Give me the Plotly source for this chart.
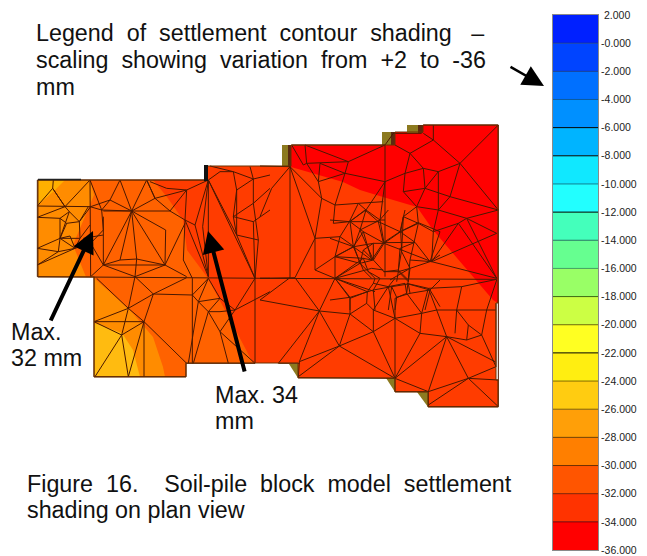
import plotly.graph_objects as go

# ---- legend scale data
BAND_TOPS = [2, 0, -2, -4, -6, -8, -10, -12, -14, -16, -18, -20, -22, -24, -26, -28, -30, -32, -34]
BAND_COLORS = ["#0020FF", "#0044FF", "#0070FF", "#0090FF", "#00B4FF", "#10E8FF", "#22FFFF", "#44FFBB",
               "#66FF90", "#99FF66", "#CCFF44", "#FFFF22", "#FFEE11", "#FFCC11", "#FF9F08", "#FF7F00",
               "#FF5500", "#FF3300", "#FF0000"]
TICK_VALUES = [2, 0, -2, -4, -6, -8, -10, -12, -14, -16, -18, -20, -22, -24, -26, -28, -30, -32, -34, -36]
TICK_LABELS = ["\u00a02.000", "-0.000", "-2.000", "-4.000", "-6.000", "-8.000", "-10.000", "-12.000", "-14.000",
               "-16.000", "-18.000", "-20.000", "-22.000", "-24.000", "-26.000", "-28.000", "-30.000",
               "-32.000", "-34.000", "-36.000"]
SEPARATOR_COLORS = ["#123a90", "#123a90", "#0a5aa0", "#000000", "#000000", "#108090", "#000000", "#207a60",
                    "#40a060", "#3a6a10", "#6a6a00", "#000000", "#806a00", "#806000", "#704000", "#703000",
                    "#802000", "#700000"]

# ---- plan view data (picture-scale plan coordinates)
OUTLINE = [(38, 180), (205, 180), (205, 166), (291, 166), (291, 145), (395, 145), (395, 132), (423, 132), (423, 125),
           (498, 125), (498, 303), (496, 303), (496, 380), (498, 380), (498, 407), (428, 407), (428, 392), (395, 392),
           (395, 378), (298, 378), (298, 363), (192, 363), (186, 363), (186, 377), (94, 377), (94, 277), (38, 277)]
ZONE_RED = [(291, 146), (395, 145), (395, 132), (423, 132), (423, 125), (498, 125), (498, 303), (493, 300),
            (433, 230), (417, 207), (383, 197), (360, 190), (343, 182), (291, 167)]
ZONE_30 = [(153, 180), (167, 197), (183, 220), (187, 250), (207, 277), (225, 310), (253, 363), (186, 363),
           (186, 377), (94, 377), (94, 277), (38, 277), (38, 180)]
ZONE_28 = [(38, 180), (90, 180), (94, 195), (79, 230), (73, 245), (86, 277), (38, 277)]
ZONE_28B = [(94, 278), (130, 310), (153, 337), (163, 367), (165, 377), (94, 377)]
ZONE_26 = [(38, 180), (65, 180), (55, 190), (38, 205)]
ZONE_26B = [(94, 323), (122, 333), (133, 350), (140, 377), (94, 377)]
PILES_OLIVE = [[(282, 145), (288, 145), (288, 167), (282, 166)], [(382, 132), (391, 132), (391, 145), (382, 145)],
               [(407, 125), (418, 125), (418, 133), (407, 133)], [(289, 364), (298, 364), (298, 378)],
               [(386, 378), (395, 378), (395, 392)], [(417, 392), (428, 392), (428, 407)]]
PILES_BROWN = [[(288, 145), (291, 145), (291, 167), (288, 167)], [(391, 132), (395, 132), (395, 145), (391, 145)],
               [(418, 125), (423, 125), (423, 133), (418, 133)]]

# west half of the mesh, in thirds of a unit, origin (20, 110)
MESH_WEST = [
    [(52, 210), (210, 210), (560, 210)], [(52, 288), (210, 290)], [(210, 210), (212, 500)], [(52, 210), (52, 500)],
    [(52, 500), (750, 505)], [(222, 500), (222, 800), (498, 800), (498, 760), (705, 760)], [(565, 210), (565, 500)],
    [(517, 505), (517, 760)], [(100, 210), (98, 235), (135, 290), (210, 210)], [(98, 235), (52, 288)],
    [(98, 235), (120, 270), (135, 290)], [(135, 290), (148, 305), (120, 385)], [(52, 322), (135, 290)],
    [(52, 322), (120, 325), (120, 385)], [(120, 325), (148, 305), (178, 335), (205, 290)],
    [(140, 340), (178, 335), (180, 385), (120, 385), (140, 340), (120, 325)], [(52, 415), (120, 385), (115, 425), (52, 415)],
    [(52, 465), (115, 425), (165, 415), (120, 385)], [(52, 465), (165, 415), (212, 400)], [(180, 385), (210, 345)],
    [(120, 385), (150, 378), (165, 415), (180, 385)], [(178, 335), (212, 290)],
    [(210, 210), (245, 300), (270, 270), (300, 210), (335, 303), (380, 210), (405, 265), (335, 303), (270, 270)],
    [(245, 300), (335, 303)], [(250, 303), (450, 303), (495, 330)], [(250, 320), (250, 465), (435, 465)],
    [(250, 465), (300, 450), (350, 447), (435, 465)], [(335, 303), (250, 465)], [(335, 303), (300, 450)],
    [(335, 303), (350, 447)], [(335, 303), (435, 465)], [(335, 303), (437, 360), (435, 465), (495, 340)],
    [(405, 265), (450, 303)], [(405, 265), (380, 210)], [(405, 265), (500, 240), (440, 235), (390, 215)], [(450, 303), (500, 240)],
    [(500, 240), (495, 330), (525, 345), (565, 210), (500, 240)], [(495, 330), (490, 450), (517, 505)], [(525, 345), (565, 500)],
    [(495, 330), (565, 500)], [(565, 210), (548, 350), (565, 500)], [(210, 290), (245, 300), (250, 360), (212, 400), (250, 465)],
    [(212, 290), (270, 270)], [(250, 375), (190, 385)], [(212, 500), (250, 465), (345, 500), (350, 447)],
    [(345, 500), (435, 465), (500, 500)], [(345, 500), (325, 595), (222, 635), (372, 635), (325, 595)],
    [(325, 595), (400, 552), (500, 503)], [(400, 552), (345, 500)], [(400, 552), (372, 635), (500, 760)],
    [(400, 552), (517, 555)], [(222, 635), (305, 675), (225, 800)], [(305, 675), (325, 800), (372, 635), (305, 675)],
    [(372, 635), (372, 800)], [(325, 595), (305, 675)], [(230, 505), (325, 595)], [(505, 760), (535, 575), (517, 555)],
    [(535, 575), (565, 505), (600, 565), (645, 600), (705, 505)], [(535, 575), (600, 565)], [(565, 505), (517, 555)],
    [(520, 760), (565, 605), (535, 575)], [(565, 605), (600, 665), (645, 600)], [(565, 605), (600, 605), (645, 600)],
    [(600, 665), (705, 760)], [(565, 605), (600, 565)], [(645, 600), (705, 570), (750, 545)], [(705, 505), (705, 760)],
    [(600, 665), (625, 760)],
    [(565, 210), (600, 185), (640, 185), (700, 207), (750, 195)], [(570, 168), (640, 185), (650, 240), (700, 207), (690, 170)],
    [(565, 210), (650, 375), (640, 320)], [(565, 210), (705, 505), (650, 375), (650, 240)], [(650, 240), (640, 320), (700, 280), (700, 207)],
    [(640, 320), (700, 335), (750, 300)], [(700, 280), (715, 390), (650, 375)], [(715, 390), (705, 505), (700, 335)], [(700, 280), (750, 235)],
]
# east half of the mesh, in thirds of a unit, origin (260, 110)
MESH_EAST = [
    [(90, 170), (90, 503)], [(90, 170), (0, 168)], [(90, 170), (35, 235), (0, 320)], [(90, 170), (165, 385), (105, 503), (0, 505)],
    [(90, 170), (185, 265)], [(0, 570), (90, 503)], [(0, 505), (710, 508)], [(95, 105), (375, 105)], [(95, 105), (130, 165), (140, 160), (135, 105), (265, 155), (375, 105)],
    [(140, 160), (265, 155), (255, 190), (375, 215)], [(140, 160), (175, 215), (255, 190), (180, 160), (175, 215), (185, 265), (165, 385), (165, 480), (225, 505)],
    [(165, 385), (240, 380), (225, 440), (165, 480)], [(185, 265), (225, 285), (295, 280), (370, 275)], [(225, 285), (220, 340), (268, 335), (240, 380)],
    [(295, 280), (268, 335), (318, 300), (295, 280)], [(318, 300), (300, 360)], [(255, 190), (225, 285)], [(375, 215), (318, 300)], [(375, 105), (375, 500)],
    [(375, 215), (435, 190), (450, 130), (405, 105)], [(375, 105), (400, 70), (485, 70)], [(520, 45), (520, 90), (490, 70)], [(520, 90), (450, 130)],
    [(520, 90), (600, 160), (715, 45)], [(490, 45), (715, 45), (715, 810)], [(600, 160), (715, 300), (620, 325), (710, 370)], [(600, 160), (535, 185), (490, 175), (435, 190)],
    [(450, 130), (490, 175), (495, 235), (535, 185)], [(600, 160), (570, 260), (535, 300), (535, 185)], [(495, 235), (570, 260), (715, 300)],
    [(535, 300), (620, 325), (595, 340), (520, 365), (535, 300)], [(520, 365), (515, 455), (595, 340), (710, 505), (620, 325)], [(515, 455), (710, 505)], [(710, 370), (515, 455)],
    [(435, 190), (430, 245), (495, 235), (470, 290), (430, 245)], [(470, 290), (430, 320), (475, 340), (470, 290), (535, 300)], [(475, 340), (520, 365)],
    [(430, 320), (422, 365), (475, 340)], [(422, 365), (372, 400), (425, 420), (422, 365)], [(425, 420), (515, 455), (450, 450), (475, 340)], [(425, 420), (415, 480), (445, 510), (450, 450)],
    [(415, 480), (372, 485)], [(375, 215), (360, 330), (372, 400)], [(318, 300), (360, 330), (300, 360), (282, 410), (225, 440)], [(282, 410), (240, 380)],
    [(300, 360), (340, 450), (372, 485)], [(282, 410), (300, 460), (340, 450)], [(225, 440), (300, 460), (345, 505)], [(372, 400), (340, 400), (340, 450), (372, 400)],
    [(225, 505), (300, 460)], [(310, 420), (340, 400), (282, 410)], [(310, 420), (300, 460)], [(310, 420), (340, 450)], [(430, 320), (425, 420)], [(375, 330), (360, 330)],
    [(105, 503), (178, 603), (0, 570)], [(178, 603), (55, 760)], [(178, 603), (118, 755)], [(178, 603), (238, 708), (118, 755)], [(238, 708), (270, 612), (178, 603)],
    [(225, 505), (178, 603)], [(225, 505), (270, 565), (270, 612)], [(225, 505), (322, 545), (270, 565)], [(322, 545), (320, 580), (270, 612)], [(270, 612), (340, 665), (238, 708)],
    [(340, 665), (405, 625), (340, 600), (320, 580)], [(340, 600), (340, 665)], [(115, 800), (238, 708), (405, 805)], [(340, 665), (405, 805), (405, 625), (480, 670), (405, 805)],
    [(405, 625), (385, 530), (340, 520), (322, 545)], [(340, 520), (345, 505)], [(385, 530), (405, 505)], [(385, 530), (435, 520), (440, 550), (405, 565), (405, 625)],
    [(485, 610), (480, 670)], [(485, 610), (405, 625)], [(485, 610), (440, 550)], [(485, 610), (505, 535), (440, 520)], [(505, 535), (605, 530), (710, 508)],
    [(505, 535), (530, 600), (485, 610)], [(530, 600), (560, 680), (480, 670)], [(560, 680), (405, 805)], [(560, 680), (505, 845)], [(560, 680), (625, 805), (505, 845)],
    [(625, 805), (715, 810)], [(625, 805), (708, 770)], [(625, 805), (505, 885)], [(625, 805), (715, 890)], [(560, 680), (620, 690), (665, 675), (680, 600), (590, 600), (605, 530)],
    [(590, 600), (585, 670)], [(590, 600), (625, 645), (620, 690)], [(625, 645), (665, 675)], [(680, 600), (710, 510)], [(680, 600), (708, 600)], [(665, 675), (708, 770)],
    [(560, 680), (705, 755)], [(530, 600), (590, 600)], [(405, 805), (505, 845)], [(405, 805), (405, 845), (505, 845), (505, 890), (715, 890), (715, 810)], [(118, 755), (115, 803), (405, 805)],
    [(55, 760), (118, 760)], [(708, 580), (708, 770)], [(440, 550), (445, 510)], [(340, 600), (385, 530)],
]
# dense centre of the mesh, in thirds of a unit, origin (330, 210)
MESH_CENTRE = [
    [(105, 0), (60, 35), (70, 110), (15, 140), (15, 205)], [(60, 35), (0, 30)], [(60, 35), (145, 35), (160, 98)], [(145, 35), (105, 0)], [(145, 35), (175, 0)],
    [(145, 35), (210, 65), (225, 0)], [(210, 65), (160, 98)], [(210, 65), (265, 38), (330, 65)], [(210, 65), (255, 97), (160, 98)], [(255, 97), (300, 155), (330, 65)],
    [(70, 110), (100, 65), (160, 98)], [(100, 65), (60, 35)], [(70, 110), (125, 150), (160, 98)], [(100, 65), (125, 150)], [(0, 85), (70, 110)], [(15, 140), (100, 145)],
    [(15, 205), (100, 145), (125, 150)], [(15, 205), (125, 175), (160, 180)], [(100, 145), (115, 185), (150, 205)], [(70, 110), (100, 180), (125, 205)],
    [(160, 185), (205, 185), (240, 175), (300, 155)], [(210, 115), (205, 185), (200, 215)], [(210, 115), (240, 175), (235, 215)], [(210, 115), (255, 97)], [(180, 210), (240, 175)],
    [(0, 270), (60, 262), (130, 240), (150, 205)], [(15, 205), (60, 262)], [(130, 240), (135, 300)], [(60, 262), (60, 300)], [(185, 230), (130, 240)], [(185, 230), (175, 300)],
    [(185, 230), (235, 222), (300, 240), (330, 210)], [(235, 222), (240, 250), (200, 262), (185, 230)], [(200, 262), (195, 300)], [(240, 250), (300, 240), (285, 300)], [(300, 240), (330, 290)],
    [(15, 205), (135, 245)], [(300, 155), (330, 135)], [(205, 185), (235, 215)],
]

G1 = "\u00a0 "      # a widened word gap, like the justified text of the reference
LABELS = [
    (34, 33, G1.join(["Legend", "of", "settlement", "contour", "shading"]) + "\u00a0\u00a0 –"),
    (34, 60, G1.join(["scaling", "showing", "variation", "from", "+2", "to", "-36"])),
    (34, 87, "mm"),
    (9, 332, "Max."),
    (9, 358, "32 mm"),
    (213, 395, "Max. 34"),
    (213, 421, "mm"),
    (25, 484, "Figure" + G1 + "16.\u00a0\u00a0\u00a0 Soil-pile" + G1 + "block" + G1 + "model" + G1 + "settlement"),
    (25, 510, "shading on plan view"),
]
ARROWS = [((50, 322), (93, 231), 4, 1.1), ((245, 373), (208, 231), 4, 1.1), ((509, 66), (544, 86), 2.5, 1.7)]

fig = go.Figure()


def add_zone(points, color):
    xs = [p[0] for p in points] + [points[0][0]]
    ys = [p[1] for p in points] + [points[0][1]]
    fig.add_trace(go.Scatter(x=xs, y=ys, mode="lines", fill="toself", fillcolor=color,
                             line=dict(width=0), hoverinfo="skip", showlegend=False))


add_zone(OUTLINE, "#FF3C00")
add_zone(ZONE_RED, "#FF0000")
add_zone(ZONE_30, "#FF6200")
add_zone(ZONE_28, "#FF8C00")
add_zone(ZONE_28B, "#FF8C00")
add_zone(ZONE_26, "#FFB000")
add_zone(ZONE_26B, "#FFBB10")
for pile in PILES_OLIVE:
    add_zone(pile, "#8C7A20")
for pile in PILES_BROWN:
    add_zone(pile, "#5A2A10")

mesh_x, mesh_y = [], []
for mesh, (ox, oy) in ((MESH_WEST, (20, 110)), (MESH_EAST, (260, 110)), (MESH_CENTRE, (330, 210))):
    for line in mesh:
        for zx, zy in line:
            mesh_x.append(ox + zx / 3)
            mesh_y.append(oy + zy / 3)
        mesh_x.append(None)
        mesh_y.append(None)
fig.add_trace(go.Scatter(x=mesh_x, y=mesh_y, mode="lines", line=dict(color="#4A1800", width=1),
                         hoverinfo="skip", showlegend=False))
fig.add_trace(go.Scatter(x=[x for x, _ in OUTLINE] + [OUTLINE[0][0]], y=[y for _, y in OUTLINE] + [OUTLINE[0][1]],
                         mode="lines", line=dict(color="#6A3000", width=1), hoverinfo="skip", showlegend=False))
fig.add_trace(go.Scatter(x=[206, 206], y=[165, 181], mode="lines", line=dict(color="#111111", width=4),
                         hoverinfo="skip", showlegend=False))
fig.add_trace(go.Scatter(x=[38, 81], y=[179.5, 179.5], mode="lines", line=dict(color="#222222", width=1.5),
                         hoverinfo="skip", showlegend=False))

# legend bar
for top, color in zip(BAND_TOPS, BAND_COLORS):
    fig.add_trace(go.Bar(x=[0.5], y=[-2], base=[top], width=[1], marker=dict(color=color, line=dict(width=0)),
                         xaxis="x2", yaxis="y2", hoverinfo="skip", showlegend=False))
for level, color in zip(TICK_VALUES[1:-1], SEPARATOR_COLORS):
    fig.add_trace(go.Scatter(x=[0, 1], y=[level, level], mode="lines", line=dict(color=color, width=1),
                             xaxis="x2", yaxis="y2", hoverinfo="skip", showlegend=False))

W, H = 647, 556
annotations = [dict(x=x, y=y, xref="x", yref="y", text=t, showarrow=False, xanchor="left", yanchor="middle",
                    font=dict(family="Liberation Sans", size=23.3, color="#111111")) for x, y, t in LABELS]
annotations += [dict(x=tip[0], y=tip[1], ax=tail[0], ay=tail[1], xref="x", yref="y", axref="x", ayref="y", text="",
                     showarrow=True, arrowhead=2, arrowsize=size, arrowwidth=width, arrowcolor="#000000")
                for tail, tip, width, size in ARROWS]

fig.update_layout(
    width=W, height=H, margin=dict(l=0, r=0, t=0, b=0, autoexpand=False), paper_bgcolor="white", plot_bgcolor="white",
    barmode="overlay", annotations=annotations, showlegend=False,
    xaxis=dict(range=[0, W], domain=[0, 1], visible=False, fixedrange=True),
    yaxis=dict(range=[H, 0], domain=[0, 1], visible=False, fixedrange=True),
    xaxis2=dict(range=[0, 1], domain=[553 / W, 598 / W], anchor="y2", showticklabels=False, ticks="", showgrid=False,
                zeroline=False, showline=True, mirror=True, linecolor="#8a8a8a", linewidth=1),
    yaxis2=dict(range=[-36, 2], domain=[(H - 550) / H, (H - 15) / H], anchor="x2", side="right", tickvals=TICK_VALUES,
                ticktext=TICK_LABELS, showgrid=False, zeroline=False, showline=True, mirror=True, linecolor="#8a8a8a",
                linewidth=1, ticks="", ticklen=0, tickfont=dict(family="Liberation Sans", size=10.5, color="#222222")),
)
fig.write_html("out.html", config=dict(displayModeBar=False),
               post_script="document.body.style.margin='0';document.documentElement.style.overflow='hidden';")
